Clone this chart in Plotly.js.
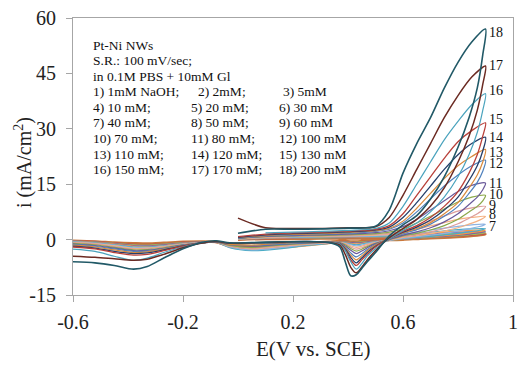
<!DOCTYPE html>
<html>
<head>
<meta charset="utf-8">
<script src="https://cdn.plot.ly/plotly-3.0.1.min.js"></script>
<style>html,body{margin:0;padding:0;background:#fff;}#chart{width:532px;height:367px;}</style>
</head>
<body>
<div id="chart"></div>
<script>
// Potential sweep (V vs. SCE): forward 0 -> 0.9, then reverse 0.9 -> -0.6
const E = [0.0, 0.1, 0.2, 0.3, 0.4, 0.5, 0.55, 0.6, 0.65, 0.7, 0.75, 0.8, 0.85, 0.9,
  0.89, 0.87, 0.84, 0.8, 0.75, 0.7, 0.65, 0.6, 0.55, 0.5, 0.47, 0.45, 0.43, 0.41, 0.39, 0.37,
  0.33, 0.25, 0.15, 0.05, -0.03, -0.08, -0.13, -0.2, -0.27, -0.33, -0.38, -0.45, -0.52, -0.6];

// Current density (mA/cm2) per NaOH concentration
const c1 = [0.0,0.2,0.2,0.3,0.3,0.4,0.5,0.6,0.8,0.9,1.0,1.1,1.3,1.5,
  1.3,1.1,0.9,0.7,0.5,0.4,0.2,0.0,-0.1,-0.2,-0.3,-0.4,-0.5,-0.5,-0.4,-0.4,
  -0.6,-1.0,-1.5,-1.8,-1.3,-0.6,-0.5,-0.6,-0.9,-1.1,-1.0,-0.8,-0.5,-0.3];
const c2 = [0.0,0.2,0.3,0.3,0.4,0.5,0.6,0.8,1.0,1.1,1.3,1.4,1.5,1.6,
  1.4,1.3,1.1,0.9,0.7,0.5,0.3,0.1,-0.1,-0.3,-0.4,-0.5,-0.6,-0.6,-0.5,-0.5,
  -0.8,-1.2,-1.8,-2.1,-1.5,-0.7,-0.6,-0.7,-1.1,-1.3,-1.2,-0.9,-0.5,-0.3];
const c3 = [0.1,0.3,0.4,0.4,0.5,0.6,0.7,0.9,1.1,1.3,1.5,1.7,1.8,1.9,
  1.7,1.5,1.3,1.0,0.8,0.6,0.3,0.1,-0.2,-0.4,-0.5,-0.6,-0.7,-0.7,-0.6,-0.6,
  -0.9,-1.3,-2.0,-2.3,-1.7,-0.7,-0.7,-0.8,-1.2,-1.5,-1.4,-1.0,-0.6,-0.4];
const c4 = [0.1,0.3,0.4,0.5,0.6,0.7,0.8,1.0,1.2,1.5,1.8,2.0,2.1,2.2,
  2.0,1.8,1.5,1.2,0.9,0.7,0.4,0.1,-0.2,-0.4,-0.6,-0.8,-0.9,-0.8,-0.7,-0.7,
  -1.0,-1.5,-2.2,-2.5,-1.9,-0.8,-0.7,-0.9,-1.4,-1.7,-1.6,-1.1,-0.7,-0.4];
const c5 = [0.1,0.4,0.5,0.6,0.7,0.8,0.9,1.1,1.4,1.7,2.0,2.3,2.5,2.6,
  2.3,2.1,1.8,1.4,1.1,0.8,0.5,0.2,-0.2,-0.5,-0.8,-1.0,-1.2,-1.0,-0.8,-0.8,
  -1.1,-1.7,-2.4,-2.8,-2.1,-0.8,-0.8,-1.0,-1.6,-1.9,-1.8,-1.2,-0.8,-0.5];
const c6 = [0.2,0.5,0.6,0.7,0.8,0.9,1.0,1.2,1.6,2.0,2.4,2.7,2.9,3.0,
  2.7,2.4,2.1,1.7,1.3,0.9,0.6,0.3,-0.2,-0.6,-0.9,-1.2,-1.4,-1.2,-0.9,-0.8,
  -1.0,-1.6,-2.5,-3.0,-2.2,-0.7,-0.8,-1.1,-1.7,-2.0,-2.0,-1.4,-0.9,-0.6];
const c7 = [0.2,0.5,0.7,0.8,0.9,1.0,1.2,1.5,2.0,2.6,3.1,3.6,4.0,4.2,
  3.8,3.4,2.9,2.3,1.7,1.2,0.8,0.4,-0.2,-0.7,-1.1,-1.5,-1.7,-1.4,-1.0,-0.8,
  -0.9,-1.4,-2.2,-2.8,-2.0,-0.6,-0.8,-1.2,-1.8,-2.2,-2.2,-1.5,-1.0,-0.7];
const c8 = [0.2,0.6,0.8,0.9,1.0,1.2,1.4,1.9,2.7,3.7,4.6,5.5,6.0,6.3,
  5.7,5.0,4.2,3.2,2.3,1.6,1.1,0.6,-0.1,-0.8,-1.3,-1.8,-2.1,-1.7,-1.1,-0.8,
  -0.8,-1.2,-1.9,-2.5,-1.8,-0.6,-0.8,-1.2,-1.9,-2.3,-2.4,-1.7,-1.1,-0.8];
const c9 = [0.3,0.7,0.9,1.0,1.1,1.4,1.7,2.4,3.6,5.0,6.4,7.7,8.6,9.0,
  8.0,7.0,5.8,4.3,3.0,2.1,1.4,0.8,-0.1,-0.9,-1.6,-2.2,-2.6,-2.0,-1.2,-0.8,
  -0.8,-1.1,-1.7,-2.3,-1.7,-0.6,-0.8,-1.3,-2.0,-2.5,-2.6,-1.9,-1.2,-0.9];
const c10 = [0.3,0.8,1.0,1.1,1.3,1.6,2.0,2.9,4.5,6.3,8.3,10.2,11.5,12.0,
  10.5,9.0,7.5,5.5,3.8,2.6,1.7,1.0,0.0,-1.0,-1.9,-2.6,-3.1,-2.4,-1.4,-0.9,
  -0.7,-1.0,-1.5,-2.1,-1.6,-0.6,-0.9,-1.4,-2.2,-2.7,-2.8,-2.1,-1.4,-1.0];
const c11 = [0.4,0.9,1.1,1.3,1.5,1.9,2.4,3.5,5.5,8.0,10.5,13.0,14.7,15.3,
  13.5,11.5,9.5,7.0,4.8,3.2,2.1,1.2,0.0,-1.1,-2.2,-3.1,-3.8,-2.9,-1.7,-0.9,
  -0.7,-0.9,-1.3,-1.8,-1.4,-0.6,-0.9,-1.5,-2.4,-2.9,-3.0,-2.3,-1.6,-1.2];
const c12 = [0.4,1.0,1.3,1.5,1.7,2.2,2.8,4.5,7.5,11.0,14.5,17.5,20.0,21.5,
  18.5,15.5,12.5,9.0,6.3,4.2,2.7,1.6,0.2,-1.3,-2.7,-3.8,-4.7,-3.6,-2.0,-1.0,
  -0.7,-0.8,-1.2,-1.6,-1.3,-0.6,-0.9,-1.5,-2.5,-3.1,-3.2,-2.5,-1.8,-1.3];
const c13 = [0.5,1.1,1.4,1.6,1.9,2.4,3.0,5.0,8.5,12.5,16.5,20.0,22.5,24.4,
  21.0,17.5,14.0,10.0,7.0,4.6,3.0,1.8,0.3,-1.5,-3.0,-4.4,-5.5,-4.2,-2.2,-1.0,
  -0.7,-0.7,-1.0,-1.5,-1.3,-0.6,-0.9,-1.6,-2.6,-3.3,-3.5,-2.8,-2.0,-1.5];
const c14 = [0.6,1.3,1.6,1.8,2.1,2.6,3.4,6.0,10.0,14.5,19.0,23.0,26.0,27.7,
  24.0,20.0,16.0,11.5,8.0,5.3,3.4,2.0,0.3,-1.8,-3.5,-5.0,-6.3,-4.8,-2.5,-1.1,
  -0.7,-0.6,-0.8,-1.0,-1.0,-0.6,-0.9,-1.7,-2.8,-3.6,-3.8,-3.2,-2.3,-1.8];
const c15 = [0.8,1.5,1.8,2.0,2.3,2.8,3.8,7.0,12.0,17.0,22.0,26.5,29.5,31.6,
  28.0,23.0,18.0,13.0,9.0,6.0,3.8,2.2,0.3,-2.0,-4.0,-5.5,-7.0,-5.5,-2.8,-1.2,
  -0.7,-0.6,-0.8,-1.0,-1.0,-0.6,-0.9,-1.8,-3.0,-4.0,-4.2,-3.5,-2.5,-2.0];
const c16 = [null,1.8,2.0,2.2,2.5,3.0,4.5,9.0,15.0,21.0,27.0,32.0,36.5,39.5,
  35.0,29.0,23.0,17.0,11.5,7.5,4.5,2.5,0.2,-2.5,-4.5,-6.5,-8.0,-6.0,-3.0,-1.2,
  -0.7,-0.6,-0.8,-1.0,-1.0,-0.6,-0.9,-2.0,-3.5,-5.0,-5.6,-4.5,-3.2,-2.6];
const c17 = [5.8,3.2,3.0,3.0,3.2,3.5,6.0,12.0,19.0,26.0,33.0,39.0,44.0,47.0,
  42.0,35.0,28.0,21.0,14.0,9.0,5.5,3.0,0.5,-3.0,-5.5,-7.5,-9.0,-7.5,-4.0,-1.5,
  -0.8,-0.5,-0.7,-0.9,-1.0,-0.5,-0.9,-2.2,-4.0,-5.3,-5.6,-5.2,-4.8,-4.5];
const c18 = [1.7,2.8,2.8,2.9,3.1,3.6,8.0,18.0,26.0,33.0,41.0,48.0,53.5,57.0,
  50.0,41.0,33.0,25.0,17.0,11.0,6.5,4.0,1.0,-3.5,-6.0,-7.8,-9.5,-9.8,-6.0,-2.0,
  -0.8,-0.5,-0.6,-0.8,-0.9,-0.3,-0.7,-2.5,-5.0,-7.3,-8.0,-7.0,-6.3,-6.0];

const series = [c1,c2,c3,c4,c5,c6,c7,c8,c9,c10,c11,c12,c13,c14,c15,c16,c17,c18];
const seriesNames = ["1 mM","2 mM","5 mM","10 mM","20 mM","30 mM","40 mM","50 mM","60 mM",
  "70 mM","80 mM","100 mM","110 mM","120 mM","130 mM","150 mM","170 mM","200 mM"];
const colors = ["#c9783c","#c0504d","#9bbb59","#8064a2","#f79646","#4bacc6",
  "#8db3e2","#f5b183","#dc9c9a","#8aa84a","#6a5a9a","#4f81bd",
  "#d98a3c","#253f6a","#b8403a","#4aa3bd","#6b2a22","#215967"];
const widths = [2.6,1.2,1.2,1.2,1.2,1.2,1.2,1.2,1.2,1.2,1.2,1.2,1.2,1.3,1.3,1.2,1.5,1.6];

// Curve-number labels at the right end
const curveLabels = ["18","17","16","15","14","13","12","11","10","9","8","7"];
const curveLabelY = [56.2,47.2,40.3,32.6,27.7,23.5,20.7,15.3,12.3,9.3,6.7,3.5];

// Info text block
const infoLines = ["Pt-Ni NWs","S.R.: 100 mV/sec;","in 0.1M PBS + 10mM Gl"];
const legCol1 = ["1) 1mM NaOH;","4) 10 mM;","7) 40 mM;","10) 70 mM;","13) 110 mM;","16) 150 mM;"];
const legCol2 = ["2) 2mM;","5) 20 mM;","8) 50 mM;","11) 80 mM;","14) 120 mM;","17) 170 mM;"];
const legCol3 = ["3) 5mM","6) 30 mM","9) 60 mM","12) 100 mM","15) 130 mM","18) 200 mM"];

const xTicks = [-0.6,-0.2,0.2,0.6,1];
const xTickText = ["-0.6","-0.2","0.2","0.6","1"];
const yTicks = [-15,0,15,30,45,60];
const yTickText = ["-15","0","15","30","45","60"];

const traces = series.map((s,i)=>({
  x: E, y: s, type:"scatter", mode:"lines", name: seriesNames[i],
  line:{color:colors[i], width:widths[i], shape:"spline", smoothing:0.8},
  hoverinfo:"skip"
}));

// plot-area pixel geometry
const L=73, R=513, T=18, B=295;
const px2x = p => (p-L)/(R-L);
const px2y = p => (B-p)/(B-T);
const serif = "Liberation Serif, Times New Roman, Times, serif";

const ann = [];
const rowY = [45,60.7,76,91.7,107,122.7,138,154,169];
const txt = (t,x,y)=>ann.push({text:t,xref:"paper",yref:"paper",x:px2x(x),y:px2y(y),xanchor:"left",yanchor:"middle",showarrow:false,font:{family:serif,size:13.5,color:"#111"}});
infoLines.forEach((t,i)=>txt(t,91,rowY[i]));
legCol1.forEach((t,i)=>txt(t,91,rowY[i+3]));
legCol2.forEach((t,i)=>txt(t,i===0?196:189,rowY[i+3]));
legCol3.forEach((t,i)=>txt(t,i===0?281:277,rowY[i+3]));
curveLabels.forEach((t,i)=>ann.push({text:t,xref:"x",yref:"y",x:0.908,y:curveLabelY[i],xanchor:"left",yanchor:"middle",showarrow:false,borderpad:0,font:{family:serif,size:14,color:"#111"}}));
// axis titles
ann.push({text:"E(V vs. SCE)",xref:"paper",yref:"paper",x:px2x(313),y:px2y(349),xanchor:"center",yanchor:"middle",showarrow:false,font:{family:serif,size:21,color:"#222"}});
ann.push({text:"i (mA/cm<sup>2</sup>)",xref:"paper",yref:"paper",x:px2x(23),y:px2y(163),xanchor:"center",yanchor:"middle",textangle:-90,showarrow:false,font:{family:serif,size:20,color:"#222"}});

const axisCommon = {showgrid:false, zeroline:false, showline:true, linecolor:"#a6a6a6", linewidth:1,
  mirror:true, ticks:"outside", ticklen:6, tickcolor:"#a6a6a6", tickfont:{family:serif,size:20,color:"#222"}};

const layout = {
  width:532, height:367, margin:{l:L, r:532-R, t:T, b:367-B},
  paper_bgcolor:"#fff", plot_bgcolor:"#fff", showlegend:false,
  font:{family:serif},
  xaxis:Object.assign({}, axisCommon, {range:[-0.6,1], tickmode:"array", tickvals:xTicks, ticktext:xTickText, ticklabelstandoff:3}),
  yaxis:Object.assign({}, axisCommon, {range:[-15,60], tickmode:"array", tickvals:yTicks, ticktext:yTickText, ticklabelstandoff:6}),
  annotations: ann
};
Plotly.newPlot("chart", traces, layout, {staticPlot:true, displayModeBar:false});
</script>
</body>
</html>
